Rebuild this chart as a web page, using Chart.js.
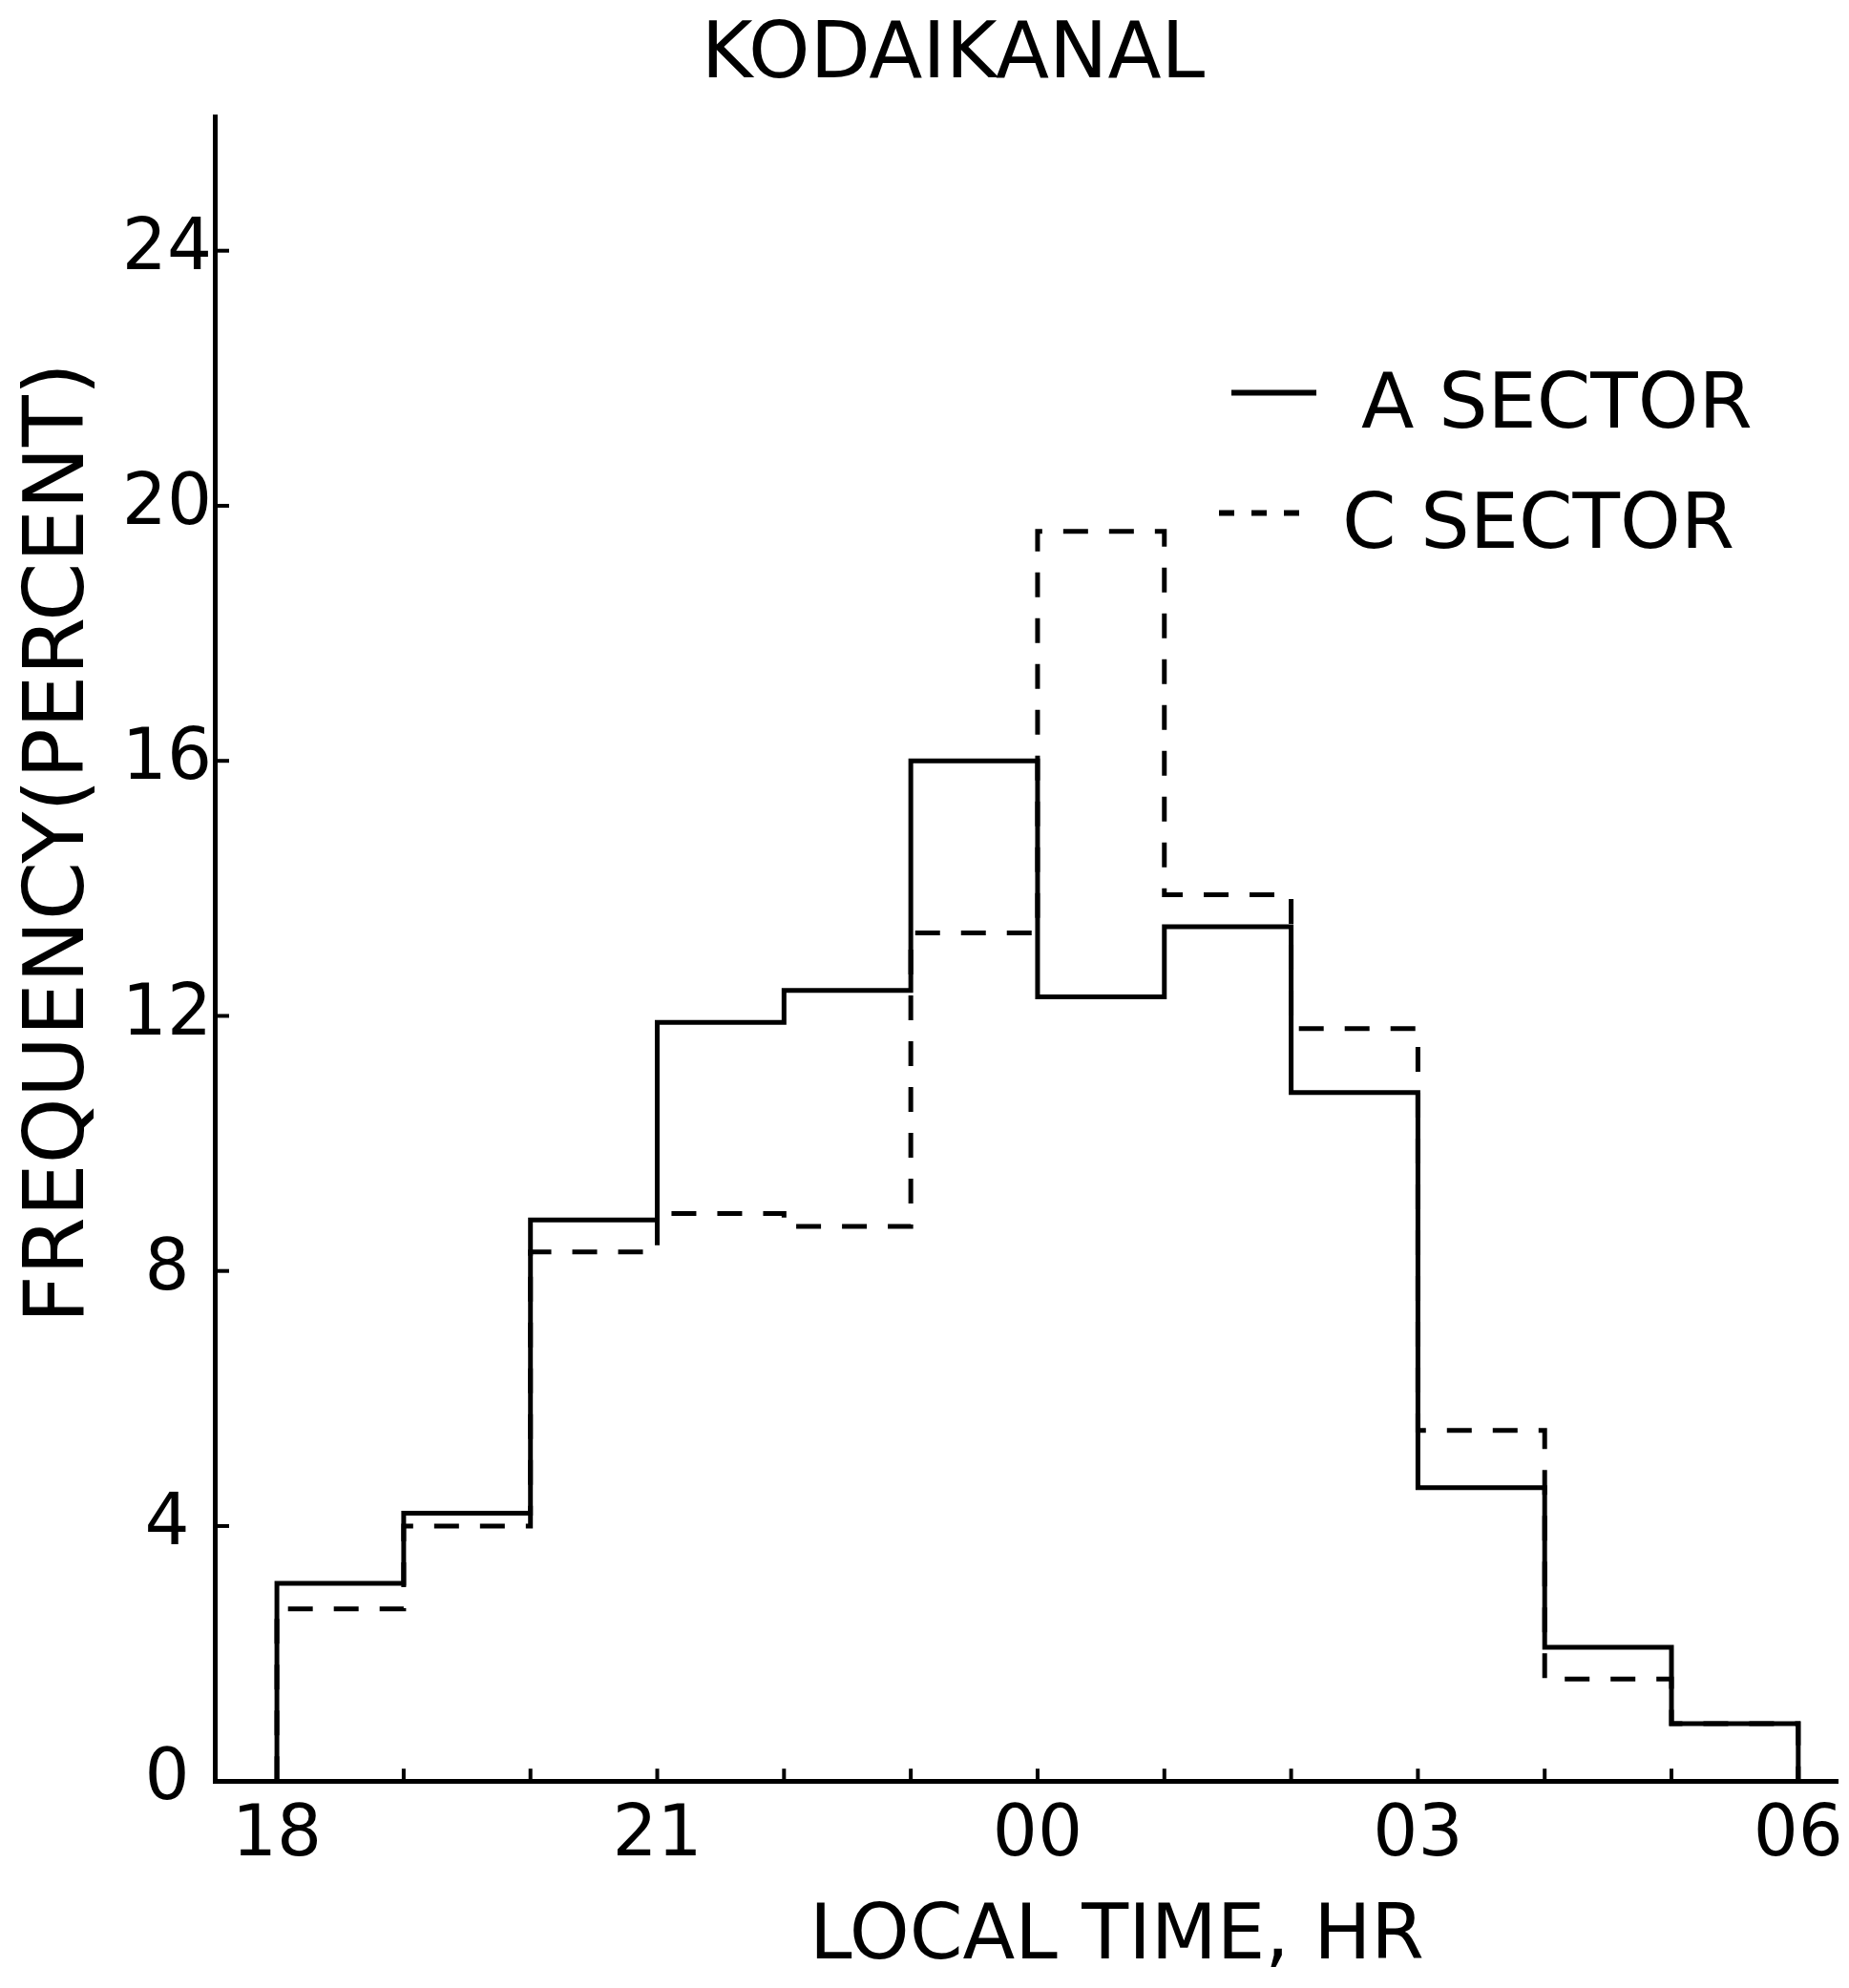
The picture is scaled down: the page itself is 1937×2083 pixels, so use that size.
<!DOCTYPE html>
<html>
<head>
<meta charset="utf-8">
<script src="https://cdn.jsdelivr.net/npm/chart.js@4/dist/chart.umd.min.js"></script>
<style>
  html, body { margin: 0; padding: 0; background: #ffffff; }
  canvas { display: block; }
</style>
</head>
<body>
<canvas id="chart" width="1937" height="2083"></canvas>
<script>
// ---------------- data ----------------
const chartTitle = 'KODAIKANAL';
const xAxisTitle = 'LOCAL TIME, HR';
const yAxisTitle = 'FREQUENCY(PERCENT)';
const seriesLabels = ['A SECTOR', 'C SECTOR'];

// hourly bins, hours counted past 18 LT (24 = 00, 27 = 03, 30 = 06)
const binStartHours = [18, 19, 20, 21, 22, 23, 24, 25, 26, 27, 28, 29];
const binEndHour = 30;
const aSector = [3.1, 4.2, 8.8, 11.9, 12.4, 16.0, 12.3, 13.4, 10.8, 4.6, 2.1, 0.9];
const cSector = [2.7, 4.0, 8.3, 8.9, 8.7, 13.3, 19.6, 13.9, 11.8, 5.5, 1.6, 0.9];

const xTickHours = [18, 21, 24, 27, 30];
const xTickLabels = ['18', '21', '00', '03', '06'];
const xMarkHours = [19, 20, 21, 22, 23, 24, 25, 26, 27, 28, 29];
const yTickValues = [0, 4, 8, 12, 16, 20, 24];
const yMarkValues = [4, 8, 12, 16, 20, 24];

// ---------------- helpers ----------------
function histogramPoints(values) {
  const pts = [{ x: binStartHours[0], y: 0 }];
  values.forEach((v, i) => pts.push({ x: binStartHours[i], y: v }));
  pts.push({ x: binEndHour, y: 0 });
  return pts;
}

const FONT = '"DejaVu Sans", "Liberation Sans", sans-serif';
const INK = '#000000';

// inward tick marks on both axes
const inwardTicks = {
  id: 'inwardTicks',
  afterDatasetsDraw(chart) {
    const { ctx, chartArea, scales } = chart;
    ctx.save();
    ctx.strokeStyle = INK;
    ctx.lineWidth = 4;
    xMarkHours.forEach(h => {
      const px = scales.x.getPixelForValue(h);
      ctx.beginPath();
      ctx.moveTo(px, chartArea.bottom);
      ctx.lineTo(px, chartArea.bottom - 13);
      ctx.stroke();
    });
    yMarkValues.forEach(v => {
      const py = scales.y.getPixelForValue(v);
      ctx.beginPath();
      ctx.moveTo(chartArea.left, py);
      ctx.lineTo(chartArea.left + 15, py);
      ctx.stroke();
    });
    ctx.restore();
  }
};

// axis titles placed like the original lettering
const axisTitles = {
  id: 'axisTitles',
  afterDraw(chart) {
    const { ctx, chartArea } = chart;
    ctx.save();
    ctx.fillStyle = INK;
    ctx.textAlign = 'center';
    ctx.textBaseline = 'middle';
    ctx.font = '80px ' + FONT;
    ctx.fillText(xAxisTitle, chartArea.left + 945, chartArea.bottom + 165);
    ctx.translate(64, chartArea.top + 761);
    ctx.rotate(-Math.PI / 2);
    ctx.font = '88px ' + FONT;
    ctx.fillText(yAxisTitle, 0, 0);
    ctx.restore();
  }
};

// legend drawn inside the plot, upper right
const insideLegend = {
  id: 'insideLegend',
  afterDraw(chart) {
    const { ctx, chartArea } = chart;
    const rows = [
      { sx: 1065, sy: 289, ty: 305, tx: 1201 },
      { sx: 1052, sy: 415, ty: 431, tx: 1181 }
    ];
    ctx.save();
    chart.data.datasets.forEach((ds, i) => {
      const r = rows[i];
      const y0 = chartArea.top + r.sy;
      ctx.strokeStyle = ds.borderColor;
      ctx.lineWidth = ds.borderWidth + 1;
      ctx.setLineDash(ds.borderDash && ds.borderDash.length ? [16, 18] : []);
      ctx.beginPath();
      ctx.moveTo(chartArea.left + r.sx, y0);
      ctx.lineTo(chartArea.left + 1154, y0);
      ctx.stroke();
      ctx.setLineDash([]);
      ctx.fillStyle = INK;
      ctx.font = '81px ' + FONT;
      ctx.textAlign = 'left';
      ctx.textBaseline = 'middle';
      ctx.fillText(ds.label, chartArea.left + r.tx, chartArea.top + r.ty);
    });
    ctx.restore();
  }
};

new Chart(document.getElementById('chart'), {
  type: 'line',
  data: {
    datasets: [
      {
        label: seriesLabels[0],
        data: histogramPoints(aSector),
        borderColor: INK,
        borderWidth: 5,
        stepped: true,
        pointRadius: 0,
        fill: false,
        order: 0
      },
      {
        label: seriesLabels[1],
        data: histogramPoints(cSector),
        borderColor: INK,
        borderWidth: 5,
        borderDash: [26, 22],
        stepped: true,
        pointRadius: 0,
        fill: false,
        order: 1
      }
    ]
  },
  options: {
    responsive: false,
    animation: false,
    devicePixelRatio: 1,
    layout: { padding: { left: 72, right: 12, top: 0, bottom: 100 } },
    plugins: {
      legend: { display: false },
      tooltip: { enabled: false },
      title: {
        display: true,
        text: chartTitle,
        color: INK,
        font: { family: FONT, size: 82, weight: 'normal' },
        padding: { top: 11, bottom: 13 }
      }
    },
    scales: {
      x: {
        type: 'linear',
        min: 17.51,
        max: 30.31,
        afterBuildTicks(scale) { scale.ticks = xTickHours.map(v => ({ value: v })); },
        afterFit(scale) { scale.paddingRight = 0; scale.paddingLeft = 0; },
        ticks: {
          color: INK,
          font: { family: FONT, size: 74 },
          padding: 14,
          autoSkip: false,
          maxRotation: 0,
          callback(value) {
            const i = xTickHours.indexOf(value);
            return i >= 0 ? xTickLabels[i] : '';
          }
        },
        grid: { display: false, drawTicks: false },
        border: { display: true, color: INK, width: 5 }
      },
      y: {
        type: 'linear',
        min: 0,
        max: 26.1,
        afterBuildTicks(scale) { scale.ticks = yTickValues.map(v => ({ value: v })); },
        afterFit(scale) { scale.width = 153; },
        ticks: {
          color: INK,
          font: { family: FONT, size: 74 },
          padding: 3,
          crossAlign: 'center',
          callback(value) { return String(value); }
        },
        grid: { display: false, drawTicks: false },
        border: { display: true, color: INK, width: 5 }
      }
    }
  },
  plugins: [inwardTicks, axisTitles, insideLegend]
});
</script>
</body>
</html>
